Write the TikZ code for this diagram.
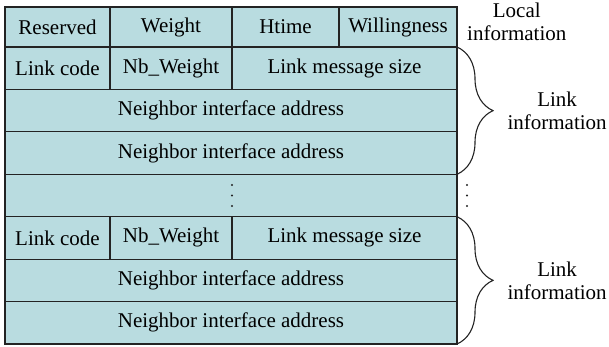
\documentclass[tikz,border=0pt]{standalone}
\usepackage{fontspec}
\setmainfont{Liberation Serif}
\usetikzlibrary{positioning,decorations.pathreplacing}
\definecolor{cellfill}{RGB}{185,220,224}
\definecolor{rulecol}{RGB}{35,35,35}
\tikzset{
  cell/.style={draw=rulecol,fill=cellfill,line width=1.1pt,inner sep=0pt,outer sep=0pt,
    minimum width=#1,minimum height=42.43pt,font=\fontsize{21}{23}\selectfont},
  lbl/.style={inner sep=0pt,align=center,font=\fontsize{21}{23}\selectfont},
  brace/.style={draw=rulecol,line width=1.1pt,decorate,decoration={brace,amplitude=36pt}}
}
\begin{document}
\begin{tikzpicture}[x=1pt,y=-1pt]
\useasboundingbox (0,0) rectangle (609,347);
% local information
\node[cell=105pt,minimum height=40pt] (res) at (57.5,27) {Reserved};
\node[cell=122pt,minimum height=40pt] (wgt) at (171,27) {Weight};
\node[cell=107pt,minimum height=40pt] (ht) at (285.5,27) {Htime};
\node[cell=118pt,minimum height=40pt] (will) at (398,27) {Willingness};
% first link block
\node[cell=105pt] (lc1) at (57.5,68.2) {Link code};
\node[cell=122pt] (nbw1) at (171,68.2) {Nb\_Weight};
\node[cell=225pt] (lms1) at (344.5,68.2) {Link message size};
\node[cell=452pt] (nia1) at (231,110.6) {Neighbor interface address};
\node[cell=452pt] (nib1) at (231,153.1) {Neighbor interface address};
\node[cell=452pt] (gap) at (231,195.5) {};
% second link block
\node[cell=105pt] (lc2) at (57.5,237.9) {Link code};
\node[cell=122pt] (nbw2) at (171,237.9) {Nb\_Weight};
\node[cell=225pt] (lms2) at (344.5,237.9) {Link message size};
\node[cell=452pt] (nia2) at (231,280.4) {Neighbor interface address};
\node[cell=452pt] (nib2) at (231,322.8) {Neighbor interface address};

\foreach \y in {185,195.5,206}
  \fill[rulecol] (232,\y) circle (1.2pt) (467,\y) circle (1.2pt);
\node[lbl,right=10pt of will,yshift=5pt] (loc) {Local\\information};
\draw[brace] (lms1.north east) -- node[lbl,right=50pt] (li1) {Link\\information} (nib1.south east);
\draw[brace] (lms2.north east) -- node[lbl,right=50pt] (li2) {Link\\information} (nib2.south east);
\end{tikzpicture}
\end{document}
